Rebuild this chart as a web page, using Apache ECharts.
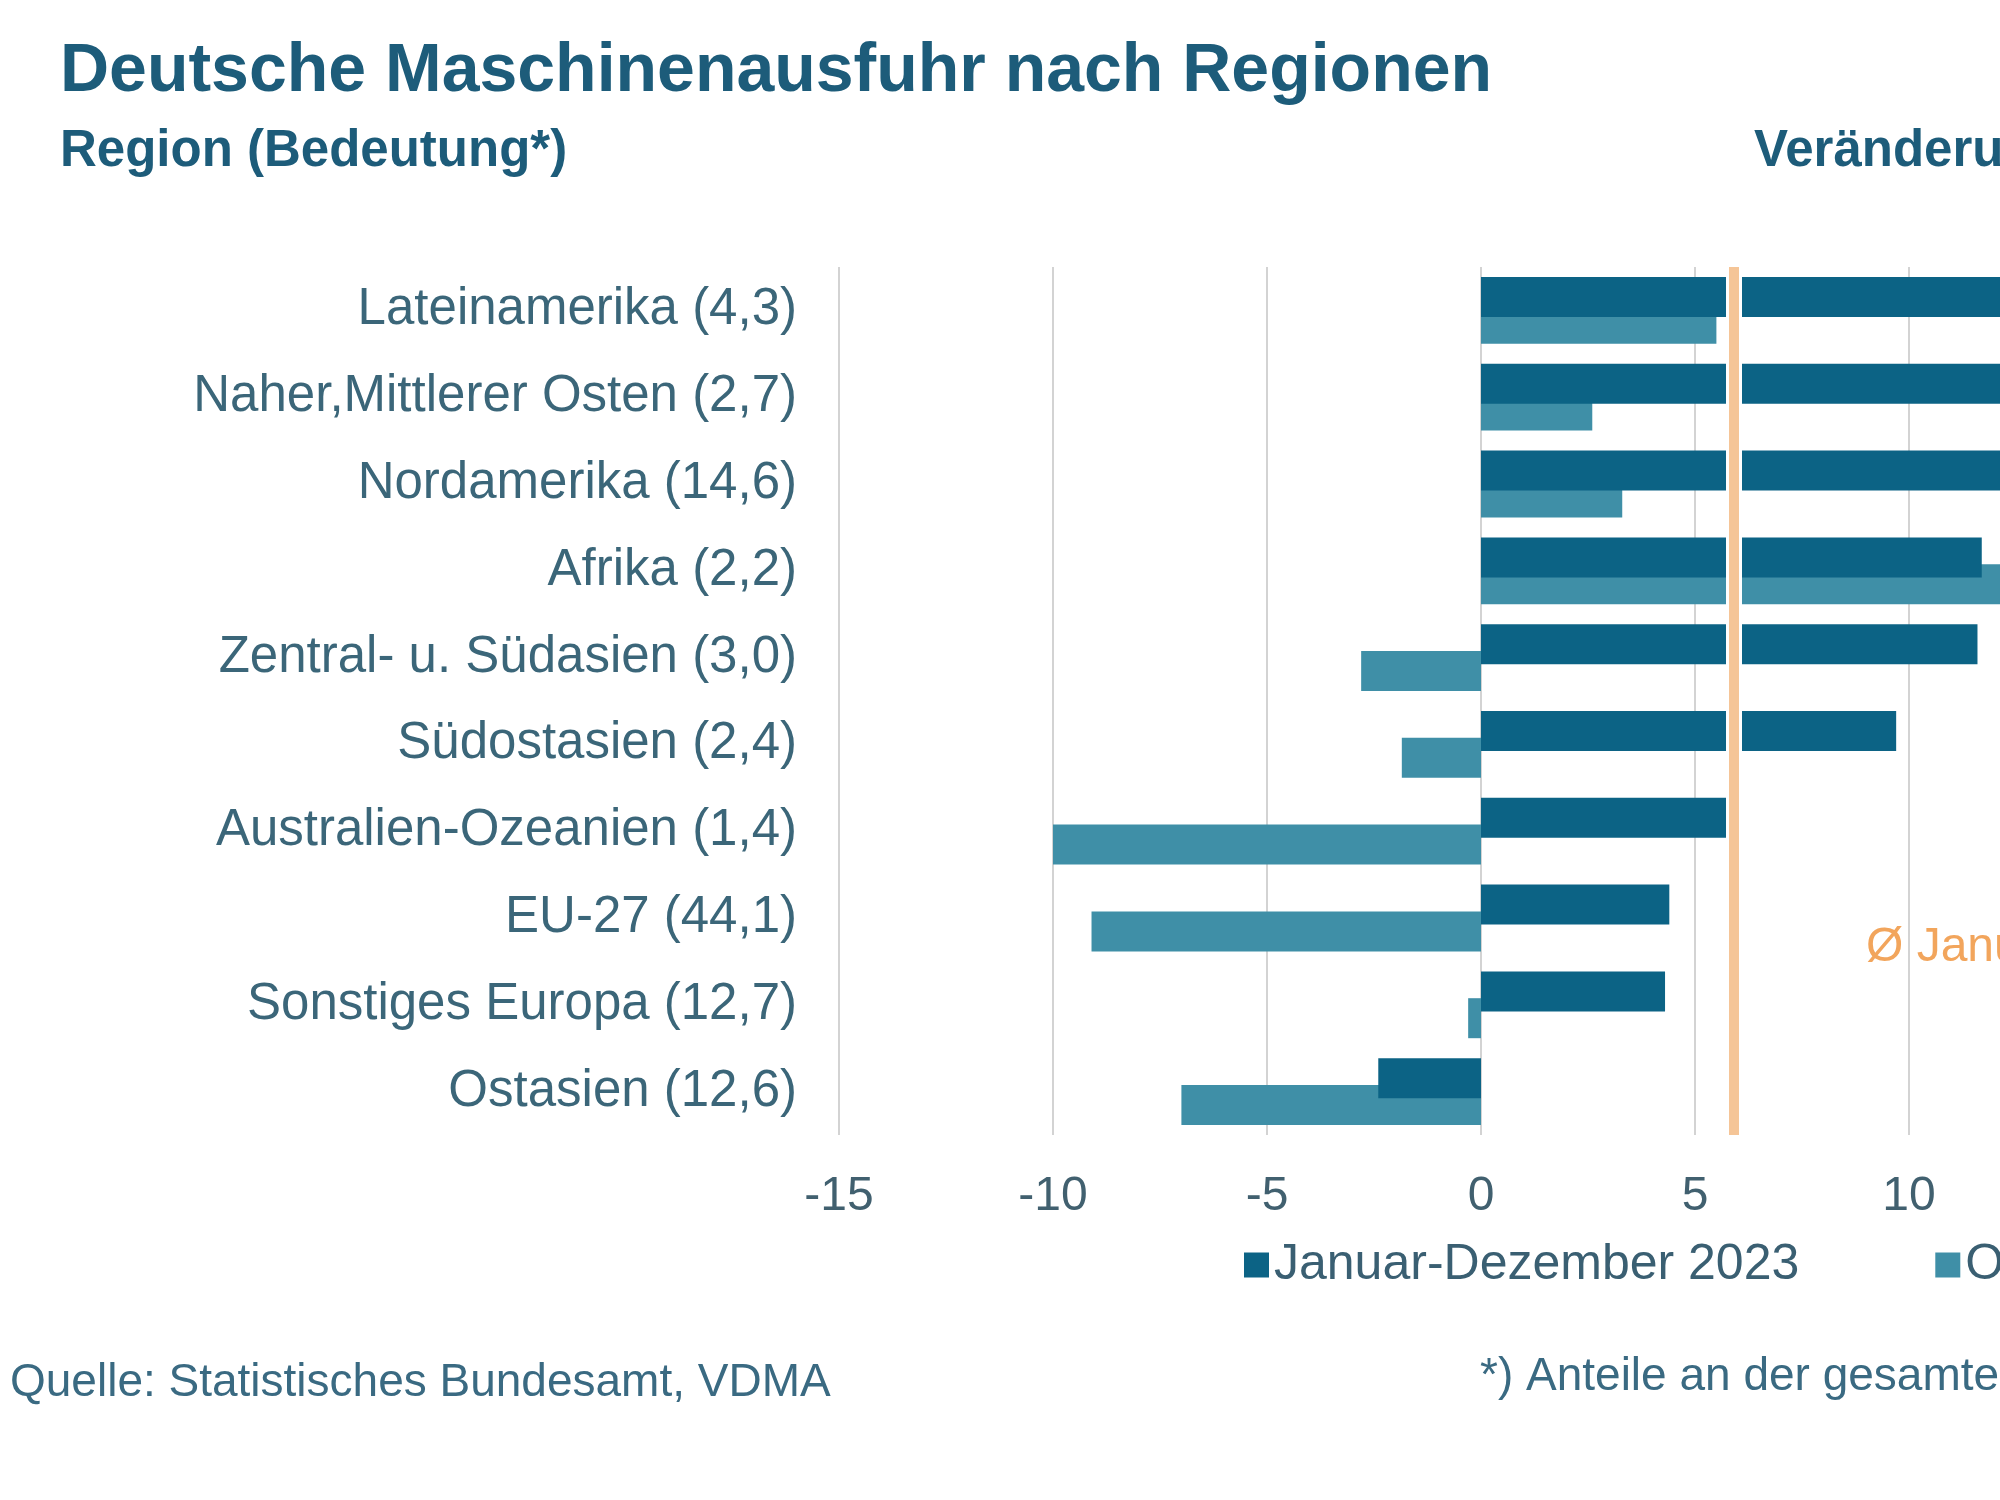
<!DOCTYPE html>
<html>
<head>
<meta charset="utf-8">
<script src="https://cdn.jsdelivr.net/npm/echarts@6/dist/echarts.min.js"></script>
<style>
  html, body { margin: 0; padding: 0; background: #fff; overflow: hidden; }
  #chart { width: 2000px; height: 1500px; }
</style>
</head>
<body>
<div id="chart"></div>
<script>
  // Regions with their share of total exports (in brackets)
  const regions = [
    'Lateinamerika (4,3)', 'Naher,Mittlerer Osten (2,7)', 'Nordamerika (14,6)',
    'Afrika (2,2)', 'Zentral- u. Südasien (3,0)', 'Südostasien (2,4)',
    'Australien-Ozeanien (1,4)', 'EU-27 (44,1)', 'Sonstiges Europa (12,7)', 'Ostasien (12,6)'
  ];
  const seriesNames = ['Januar-Dezember 2023', 'Oktober-Dezember 2023'];
  // change vs previous year in %
  const fullYear = [17.5, 15.0, 13.5, 11.7, 11.6, 9.7, 5.8, 4.4, 4.3, -2.4];
  const lastQuarter = [5.5, 2.6, 3.3, 15.0, -2.8, -1.85, -10.0, -9.1, -0.3, -7.0];
  const average = 5.9;
  const xTicks = { min: -15, max: 20, step: 5 };

  const font = '"Liberation Sans", Arial, sans-serif';
  const dark = '#0c6385';
  const light = '#3f8fa7';

  const chart = echarts.init(document.getElementById('chart'));

  chart.setOption({
    backgroundColor: '#fff',
    animation: false,
    textStyle: { fontFamily: font },
    graphic: [
      {
        type: 'text', left: 60, top: 38,
        style: { text: 'Deutsche Maschinenausfuhr nach Regionen', font: 'bold 68px ' + font, fill: '#1d5c7a' }
      },
      {
        type: 'text', left: 60, top: 126,
        style: { text: 'Region (Bedeutung*)', font: 'bold 51px ' + font, fill: '#1d5c7a' }
      },
      {
        type: 'text', left: 1754, top: 126,
        style: { text: 'Veränderung gegenüber Vorjahr in %', font: 'bold 51px ' + font, fill: '#1d5c7a' }
      },
      {
        type: 'text', left: 1866, top: 924,
        style: { text: 'Ø Januar-Dezember 2023', font: '48px ' + font, fill: '#f2a55c' }
      },
      {
        type: 'text', left: 10, top: 1360,
        style: { text: 'Quelle: Statistisches Bundesamt, VDMA', font: '46px ' + font, fill: '#3a6a82' }
      },
      {
        type: 'text', left: 1480, top: 1354,
        style: { text: '*) Anteile an der gesamten Maschinenausfuhr in %', font: '46px ' + font, fill: '#3a6a82' }
      }
    ],
    legend: {
      data: seriesNames,
      left: 1244,
      top: 1240,
      width: 1600,
      padding: 0,
      itemWidth: 25,
      itemHeight: 25,
      itemGap: 136,
      icon: 'rect',
      textStyle: { fontSize: 50, color: '#3a5f72', fontFamily: font }
    },
    grid: {
      left: 839,
      top: 267,
      width: (xTicks.max - xTicks.min) * 42.8,
      height: 868,
      containLabel: false,
      outerBoundsMode: 'none'
    },
    xAxis: {
      type: 'value',
      min: xTicks.min,
      max: xTicks.max,
      interval: xTicks.step,
      axisLine: { show: false },
      axisTick: { show: false },
      axisLabel: { fontSize: 48, color: '#41606f', margin: 38, fontFamily: font },
      splitLine: { show: true, lineStyle: { color: '#d3d3d3', width: 2 } }
    },
    yAxis: {
      type: 'category',
      data: regions,
      inverse: true,
      axisLine: { show: false },
      axisTick: { show: false },
      axisLabel: { fontSize: 51, color: '#3b6679', margin: 42, fontFamily: font }
    },
    series: [
      {
        name: seriesNames[0],
        type: 'bar',
        data: fullYear,
        barWidth: 40,
        barGap: '-33%',
        z: 3,
        itemStyle: { color: dark }
      },
      {
        name: seriesNames[1],
        type: 'bar',
        data: lastQuarter,
        barWidth: 40,
        z: 2,
        itemStyle: { color: light }
      },
      {
        name: 'avg',
        type: 'line',
        data: [],
        z: 10,
        markLine: {
          silent: true,
          symbol: 'none',
          label: { show: false },
          data: [
            { xAxis: average, lineStyle: { color: '#ffffff', width: 16, type: 'solid' } },
            { xAxis: average, lineStyle: { color: '#f5c597', width: 10, type: 'solid' } }
          ]
        }
      }
    ]
  });
</script>
</body>
</html>
